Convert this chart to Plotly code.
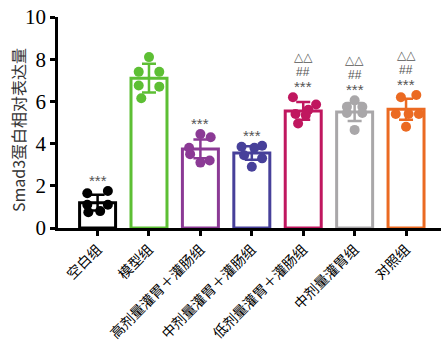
import plotly.graph_objects as go

categories = ["空白组", "模型组", "高剂量灌胃＋灌肠组", "中剂量灌胃＋灌肠组",
              "低剂量灌胃＋灌肠组", "中剂量灌胃组", "对照组"]
means = [1.2, 7.1, 3.75, 3.55, 5.55, 5.5, 5.63]
sds = [0.37, 0.68, 0.45, 0.32, 0.42, 0.43, 0.5]
points = [
    [1.65, 1.75, 1.1, 1.1, 0.75, 0.8],
    [8.1, 7.4, 7.4, 6.75, 6.7, 6.15],
    [4.45, 4.3, 3.8, 3.5, 3.2, 3.1],
    [3.85, 3.8, 3.9, 3.45, 3.3, 2.9],
    [6.2, 5.85, 5.6, 5.4, 5.35, 4.95],
    [6.05, 5.75, 5.75, 5.45, 5.45, 4.65],
    [6.2, 6.3, 5.4, 5.4, 5.4, 4.8],
]
sig_star = ["***", "", "***", "***", "***", "***", "***"]
sig_hash = ["", "", "", "", "##", "##", "##"]
sig_tri = ["", "", "", "", "△△", "△△", "△△"]
y_ticks = [0, 2, 4, 6, 8, 10]
y_title = "Smad3蛋白相对表达量"

# styling
colors = ["#000000", "#5dbf34", "#8b3a95", "#47409a", "#c0175f", "#a9a7a9", "#eb6a22"]
jitter = [
    [-0.2, 0.2, -0.2, 0.2, -0.18, 0.05],
    [0.0, -0.2, 0.2, -0.2, 0.2, -0.15],
    [0.0, 0.2, -0.22, -0.2, 0.18, 0.0],
    [-0.2, 0.05, 0.2, -0.15, 0.2, 0.0],
    [-0.2, 0.25, 0.1, -0.15, 0.05, -0.1],
    [0.0, -0.15, 0.15, -0.15, 0.15, 0.0],
    [-0.1, 0.2, -0.2, 0.05, 0.25, 0.0],
]

fig = go.Figure()
xs = list(range(len(categories)))
for i, c in enumerate(categories):
    fig.add_trace(go.Bar(
        x=[i], y=[means[i]], width=0.7,
        marker=dict(color="white", line=dict(color=colors[i], width=3)),
        error_y=dict(type="data", array=[sds[i]], color=colors[i], thickness=2.5, width=7),
        showlegend=False,
    ))
for i, c in enumerate(categories):
    fig.add_trace(go.Scatter(
        x=[i + j for j in jitter[i]], y=points[i], mode="markers",
        marker=dict(color=colors[i], size=10),
        showlegend=False, cliponaxis=False,
    ))

for i in xs:
    base = max(points[i]) + 0.5
    for text, shift, fam, size in ((sig_star[i], 0, "Liberation Sans", 15),
                                   (sig_hash[i], 15, "Liberation Sans", 12),
                                   (sig_tri[i], 30, "DejaVu Sans", 12)):
        if text:
            fig.add_annotation(x=i, y=base, yshift=shift, text=text, showarrow=False,
                               yanchor="middle", xanchor="center",
                               font=dict(size=size, color="#555555", family=fam))

fig.add_annotation(xref="paper", yref="paper", x=0, y=0.464, xshift=-40,
                   text=y_title, textangle=-90, showarrow=False,
                   xanchor="center", yanchor="middle",
                   font=dict(family="Noto Sans CJK SC", size=16, color="#333333"))

fig.update_layout(
    width=441, height=342,
    margin=dict(l=58, r=0, t=17, b=114),
    plot_bgcolor="white", paper_bgcolor="white",
    bargap=0.3,
    xaxis=dict(
        range=[-0.77, 6.68], tickmode="array", tickvals=xs, ticktext=categories,
        tickangle=-45, showline=True, linecolor="black", linewidth=2.5,
        ticks="outside", ticklen=5, tickwidth=2.5, tickcolor="black",
        showgrid=False, zeroline=False,
        tickfont=dict(family="Noto Sans CJK SC", size=14, color="black"),
    ),
    yaxis=dict(
        range=[0, 10], tickmode="array", tickvals=y_ticks,
        showline=True, linecolor="black", linewidth=2.5,
        ticks="outside", ticklen=5, tickwidth=2.5, tickcolor="black",
        showgrid=False, zeroline=False,
        tickfont=dict(family="Liberation Serif", size=21, color="black"),
    ),
)
fig.write_html("out.html")
